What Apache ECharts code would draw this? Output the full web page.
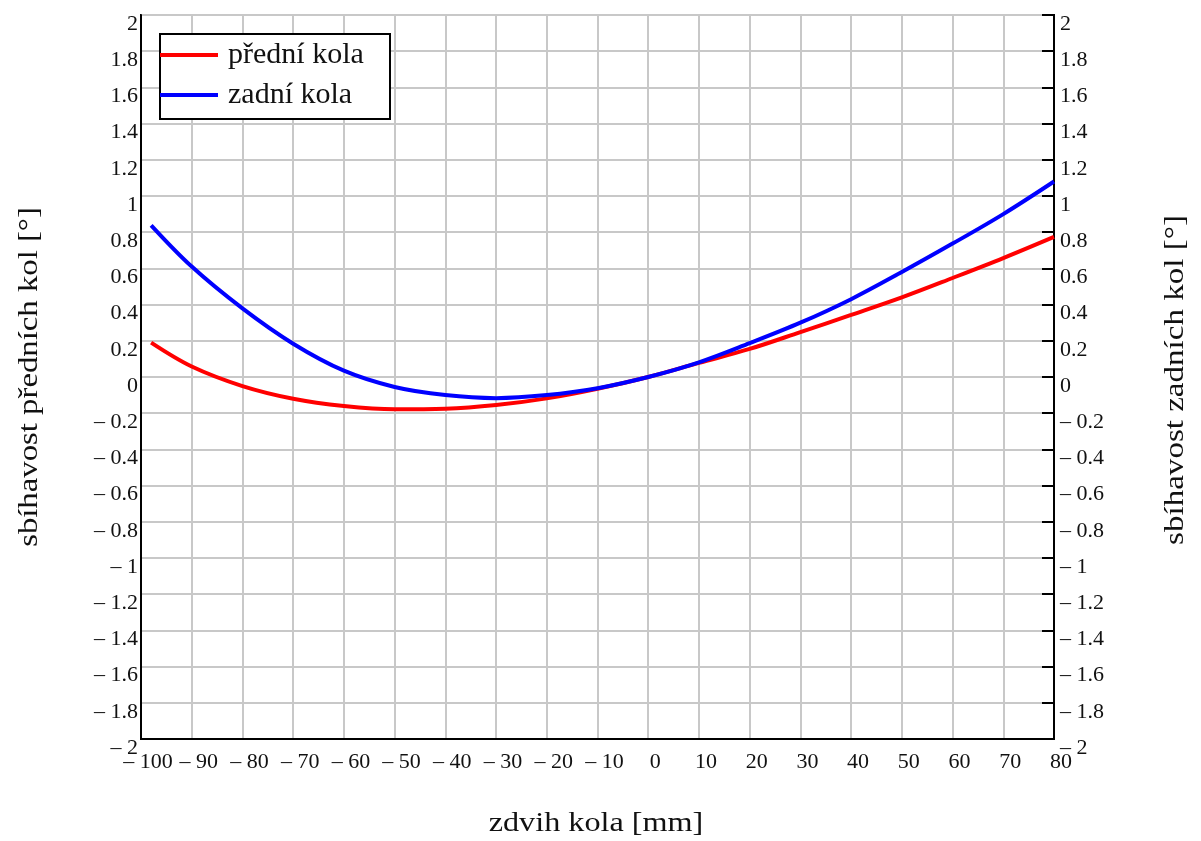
<!DOCTYPE html>
<html>
<head>
<meta charset="utf-8">
<title>Sbíhavost kol</title>
<script src="https://cdn.jsdelivr.net/npm/echarts@6/dist/echarts.min.js"></script>
<style>
  html, body { margin: 0; padding: 0; background: #ffffff; }
  #chart { width: 1201px; height: 841px; }
</style>
</head>
<body>
<div id="chart"></div>
<script>
// Wheel travel [mm] and toe angle [°] for the front and rear axle
const wheelTravel = [-98, -90, -80, -70, -60, -50, -40, -30, -20, -10, 0, 10, 20, 30, 40, 50, 60, 70, 80];
const frontToe = [0.19, 0.058, -0.05, -0.12, -0.16, -0.178, -0.175, -0.155, -0.118, -0.065, 0, 0.078, 0.155, 0.248, 0.343, 0.44, 0.547, 0.657, 0.774];
const rearToe = [0.838, 0.61, 0.379, 0.184, 0.035, -0.055, -0.10, -0.117, -0.10, -0.062, 0, 0.081, 0.187, 0.30, 0.43, 0.58, 0.737, 0.90, 1.08];

const seriesNames = ['přední kola', 'zadní kola'];
const xTitle = 'zdvih kola [mm]';
const yLeftTitle = 'sbíhavost předních kol [°]';
const yRightTitle = 'sbíhavost zadních kol [°]';

const xRange = { min: -100, max: 80, step: 10 };
const yRange = { min: -2, max: 2, step: 0.2 };

const FONT = '"Liberation Serif", "Times New Roman", serif';

function fmt(v) {
  const r = Math.round(v * 10) / 10;
  if (r === 0) return '0';
  return r < 0 ? '\u2013 ' + String(Math.abs(r)) : String(r);
}

const pairs = (ys) => wheelTravel.map((x, i) => [x, ys[i]]);

const chart = echarts.init(document.getElementById('chart'), null, { renderer: 'canvas' });

const plot = { left: 141, top: 15, width: 913, height: 724 };
// x tick labels are set slightly right of their gridlines, so they get their own
// label-only axis on a copy of the plot grid shifted by a few pixels
const labelShift = 7;

const yLabel = {
  formatter: fmt, color: '#111', fontFamily: FONT, fontSize: 22,
  verticalAlign: 'top', lineHeight: 18,
  showMinLabel: true, showMaxLabel: true
};

chart.setOption({
  animation: false,
  backgroundColor: '#ffffff',
  textStyle: { fontFamily: FONT },
  grid: [
    Object.assign({ show: true, borderColor: '#000', borderWidth: 2, backgroundColor: 'transparent' }, plot),
    Object.assign({ show: false }, plot, { left: plot.left + labelShift })
  ],
  xAxis: [
    {
      type: 'value', gridIndex: 0,
      min: xRange.min, max: xRange.max, interval: xRange.step,
      axisLine: { show: true, onZero: false, lineStyle: { color: '#000', width: 2 } },
      axisTick: { show: false },
      splitLine: { show: true, lineStyle: { color: '#c8c8c8', width: 2 } },
      axisLabel: { show: false }
    },
    {
      type: 'value', gridIndex: 1,
      min: xRange.min, max: xRange.max, interval: xRange.step,
      axisLine: { show: false },
      axisTick: { show: false },
      splitLine: { show: false },
      axisLabel: {
        formatter: fmt, color: '#111', fontFamily: FONT, fontSize: 22,
        margin: 12, showMinLabel: true, showMaxLabel: true
      }
    }
  ],
  yAxis: [
    {
      type: 'value', position: 'left', gridIndex: 0,
      min: yRange.min, max: yRange.max, interval: yRange.step,
      axisLine: { show: true, onZero: false, lineStyle: { color: '#000', width: 2 } },
      axisTick: { show: false },
      splitLine: { show: true, lineStyle: { color: '#c8c8c8', width: 2 } },
      axisLabel: Object.assign({ margin: 3 }, yLabel)
    },
    {
      type: 'value', position: 'right', gridIndex: 0,
      min: yRange.min, max: yRange.max, interval: yRange.step,
      axisLine: { show: true, onZero: false, lineStyle: { color: '#000', width: 2 } },
      axisTick: { show: true, inside: true, length: 12, lineStyle: { color: '#000', width: 2 } },
      splitLine: { show: false },
      axisLabel: Object.assign({ margin: 6 }, yLabel)
    },
    {
      type: 'value', gridIndex: 1, show: false,
      min: yRange.min, max: yRange.max
    }
  ],
  legend: {
    left: 160, top: 40, orient: 'vertical',
    padding: 0, itemGap: 10,
    itemWidth: 58, itemHeight: 4,
    icon: 'rect',
    z: 12,
    textStyle: { fontFamily: FONT, fontSize: 30, color: '#111', lineHeight: 30, padding: [0, 0, 0, 5] },
    data: seriesNames
  },
  graphic: [
    {
      type: 'rect', z: 11,
      shape: { x: 160, y: 34, width: 230, height: 85 },
      style: { fill: '#ffffff', stroke: '#000', lineWidth: 2 }
    },
    {
      type: 'text', x: 596, y: 824, scaleX: 1.15,
      style: { text: xTitle, font: '28px ' + FONT, fill: '#111', align: 'center', verticalAlign: 'middle' }
    },
    {
      type: 'text', x: 30, y: 377, rotation: Math.PI / 2, scaleX: 1.17,
      style: { text: yLeftTitle, font: '28px ' + FONT, fill: '#111', align: 'center', verticalAlign: 'middle' }
    },
    {
      type: 'text', x: 1176, y: 380, rotation: Math.PI / 2, scaleX: 1.18,
      style: { text: yRightTitle, font: '28px ' + FONT, fill: '#111', align: 'center', verticalAlign: 'middle' }
    }
  ],
  series: [
    {
      name: seriesNames[0], type: 'line', smooth: 0.35, showSymbol: false,
      xAxisIndex: 0, yAxisIndex: 0, z: 3,
      lineStyle: { color: '#ff0000', width: 4 },
      itemStyle: { color: '#ff0000' },
      data: pairs(frontToe)
    },
    {
      name: seriesNames[1], type: 'line', smooth: 0.35, showSymbol: false,
      xAxisIndex: 0, yAxisIndex: 1, z: 4,
      lineStyle: { color: '#0000ff', width: 4 },
      itemStyle: { color: '#0000ff' },
      data: pairs(rearToe)
    }
  ]
});
</script>
</body>
</html>
